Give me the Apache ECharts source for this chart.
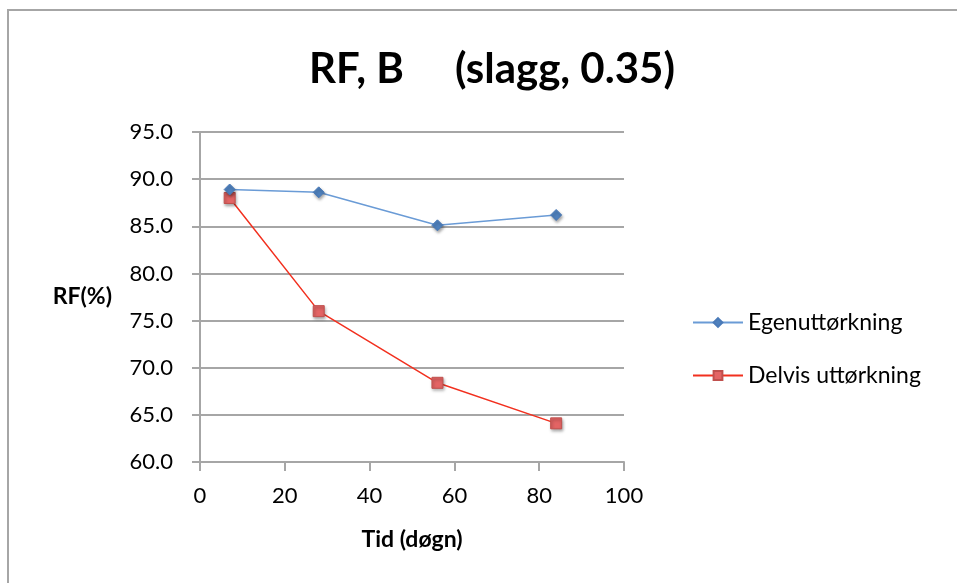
<!DOCTYPE html>
<html>
<head>
<meta charset="utf-8">
<script src="https://cdn.jsdelivr.net/npm/echarts@6/dist/echarts.min.js"></script>
<style>
  html, body { margin: 0; padding: 0; background: #ffffff; }
  #chart { width: 957px; height: 583px; }
</style>
</head>
<body>
<div id="chart"></div>
<script>
// Relative humidity over time, slag concrete (w/b 0.35)
const days = [7, 28, 56, 84];
const egenuttorkning = [88.9, 88.6, 85.1, 86.2];
const delvisUttorkning = [88.0, 76.0, 68.4, 64.1];
const seriesNames = ['Egenuttørkning', 'Delvis uttørkning'];
const titleText = 'RF, B     (slagg, 0.35)';
const xName = 'Tid (døgn)';
const yName = 'RF(%)';

const FONT = 'Lato, "Open Sans", sans-serif';
const GRID_GREY = '#a6a6a6';

const chart = echarts.init(document.getElementById('chart'), null, { renderer: 'canvas' });

const pairs = (xs, ys) => xs.map((x, i) => [x, ys[i]]);

chart.setOption({
  backgroundColor: '#ffffff',
  animation: false,
  title: {
    text: titleText,
    left: 487,
    top: 43,
    textAlign: 'center',
    textStyle: { fontFamily: FONT, fontWeight: 'bold', fontSize: 42, color: '#000000' }
  },
  graphic: [{
    type: 'polyline',
    shape: { points: [[8, 600], [8, 10], [970, 10]] },
    style: { stroke: '#a6a6a6', lineWidth: 2, fill: null }
  }],
  legend: {
    orient: 'vertical',
    left: 687,
    top: 306,
    itemGap: 30,
    itemWidth: 50,
    itemHeight: 11,
    textStyle: { fontFamily: FONT, fontSize: 23, color: '#000000' },
    data: seriesNames
  },
  grid: { left: 200, right: 333, top: 132, bottom: 121, containLabel: false },
  xAxis: {
    type: 'value',
    min: 0, max: 100, interval: 20,
    name: xName,
    nameLocation: 'middle',
    nameGap: 66,
    nameTextStyle: { fontFamily: FONT, fontWeight: 'bold', fontSize: 23, color: '#000000' },
    axisLine: { show: true, lineStyle: { color: GRID_GREY, width: 2 } },
    axisTick: { show: true, length: 9, lineStyle: { color: GRID_GREY, width: 2 } },
    axisLabel: { fontFamily: FONT, fontSize: 22, color: '#000000', margin: 23 },
    splitLine: { show: false }
  },
  yAxis: {
    type: 'value',
    min: 60, max: 95, interval: 5,
    name: yName,
    nameLocation: 'middle',
    nameRotate: 0,
    nameGap: 88,
    nameTextStyle: {
      fontFamily: FONT, fontWeight: 'bold', fontSize: 23, color: '#000000',
      padding: [8, 0, 0, 0]
    },
    axisLine: { show: true, lineStyle: { color: GRID_GREY, width: 2 } },
    axisTick: { show: true, length: 8, lineStyle: { color: GRID_GREY, width: 2 } },
    axisLabel: {
      fontFamily: FONT, fontSize: 22, color: '#000000', margin: 27,
      formatter: v => v.toFixed(1)
    },
    splitLine: { show: true, lineStyle: { color: GRID_GREY, width: 2 } }
  },
  series: [
    {
      name: seriesNames[0],
      type: 'line',
      data: pairs(days, egenuttorkning),
      symbol: 'diamond',
      symbolSize: 11,
      lineStyle: { color: '#6a9bd6', width: 1.5 },
      itemStyle: {
        color: '#4f81bd', borderColor: '#4a7ab8', borderWidth: 1,
        shadowBlur: 3, shadowColor: 'rgba(0,0,0,0.35)', shadowOffsetX: 1, shadowOffsetY: 2
      },
      z: 3
    },
    {
      name: seriesNames[1],
      type: 'line',
      data: pairs(days, delvisUttorkning),
      symbol: 'rect',
      symbolSize: 11,
      lineStyle: { color: '#f2301f', width: 1.5 },
      itemStyle: {
        color: '#e36464', borderColor: '#c0504d', borderWidth: 1,
        shadowBlur: 3, shadowColor: 'rgba(0,0,0,0.35)', shadowOffsetX: 1, shadowOffsetY: 2
      },
      z: 2
    }
  ]
});
</script>
</body>
</html>
